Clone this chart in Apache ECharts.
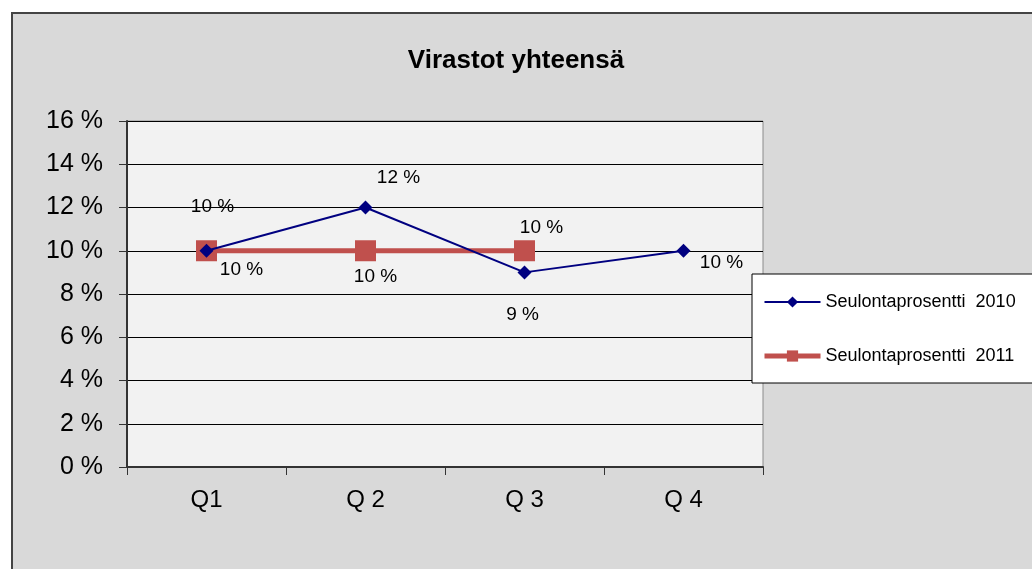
<!DOCTYPE html>
<html>
<head>
<meta charset="utf-8">
<script src="https://cdn.jsdelivr.net/npm/echarts@6/dist/echarts.min.js"></script>
<style>
  html, body { margin: 0; padding: 0; background: #fff; }
  #wrap { position: relative; width: 1032px; height: 569px; overflow: hidden; }
  #frame {
    position: absolute; left: 11px; top: 12px; width: 1040px; height: 580px;
    background: #d9d9d9; border-left: 2px solid #444; border-top: 2px solid #444;
  }
  #main { position: absolute; left: 0; top: 0; width: 1032px; height: 569px; }
</style>
</head>
<body>
<div id="wrap">
  <div id="frame"></div>
  <div id="main"></div>
</div>
<script>
// data
const quarters = ['Q1', 'Q 2', 'Q 3', 'Q 4'];
const yTicks = [0, 2, 4, 6, 8, 10, 12, 14, 16];
const values2010 = [10, 12, 9, 10];
const values2011 = [10, 10, 10, null];
// label offsets (px) from each point
const offsets2010 = [[6, -44], [33, -30], [-2, 42], [38, 12]];
const offsets2011 = [[35, 19], [10, 26], [17, -23], [0, 0]];

const fontFam = '"Liberation Sans", Arial, sans-serif';

function withLabels(vals, offs) {
  return vals.map((v, i) => ({
    value: v,
    label: { offset: offs[i] }
  }));
}

let myChart = echarts.init(document.getElementById('main'));
let option = {
  backgroundColor: 'transparent',
  textStyle: { fontFamily: fontFam },
  title: {
    text: 'Virastot yhteensä',
    left: 'center',
    top: 43,
    textStyle: { fontSize: 26, fontWeight: 'bold', color: '#000', fontFamily: fontFam }
  },
  legend: {
    orient: 'vertical',
    left: 752,
    top: 274,
    backgroundColor: '#fff',
    borderColor: '#000',
    borderWidth: 1,
    padding: [19, 60, 18, 10],
    itemGap: 36,
    itemWidth: 56,
    itemHeight: 14,
    textStyle: { fontSize: 18, color: '#000', fontFamily: fontFam },
    data: [
      { name: 'Seulontaprosentti  2010', lineStyle: { width: 2 } },
      { name: 'Seulontaprosentti  2011', lineStyle: { width: 5 } }
    ]
  },
  grid: {
    left: 127, right: 269, top: 121, bottom: 102,
    show: true,
    backgroundColor: '#f2f2f2',
    borderColor: '#8c8c8c',
    borderWidth: 1
  },
  xAxis: {
    type: 'category',
    data: quarters,
    boundaryGap: true,
    axisLine: { lineStyle: { color: '#333', width: 2 } },
    axisTick: { show: true, length: 8, lineStyle: { color: '#333' } },
    axisLabel: { fontSize: 24, color: '#000', margin: 21, fontFamily: fontFam }
  },
  yAxis: {
    type: 'value',
    min: yTicks[0],
    max: yTicks[yTicks.length - 1],
    interval: 2,
    axisLine: { show: true, lineStyle: { color: '#333', width: 2 } },
    axisTick: { show: true, length: 8, lineStyle: { color: '#333' } },
    axisLabel: { fontSize: 25, color: '#000', margin: 24, formatter: '{value} %', fontFamily: fontFam },
    splitLine: { lineStyle: { color: '#000', width: 1 } }
  },
  series: [
    {
      name: 'Seulontaprosentti  2010',
      type: 'line',
      data: withLabels(values2010, offsets2010),
      symbol: 'diamond',
      symbolSize: 14,
      z: 3,
      itemStyle: { color: '#000080' },
      lineStyle: { color: '#000080', width: 2 },
      label: {
        show: true, position: 'inside', formatter: '{c} %',
        fontSize: 19, color: '#000', fontFamily: fontFam
      }
    },
    {
      name: 'Seulontaprosentti  2011',
      type: 'line',
      data: withLabels(values2011, offsets2011),
      symbol: 'rect',
      symbolSize: 21,
      z: 2,
      itemStyle: { color: '#c0504d' },
      lineStyle: { color: '#c0504d', width: 5 },
      label: {
        show: true, position: 'inside', formatter: '{c} %',
        fontSize: 19, color: '#000', fontFamily: fontFam
      }
    }
  ]
};
myChart.setOption(option);
</script>
</body>
</html>
